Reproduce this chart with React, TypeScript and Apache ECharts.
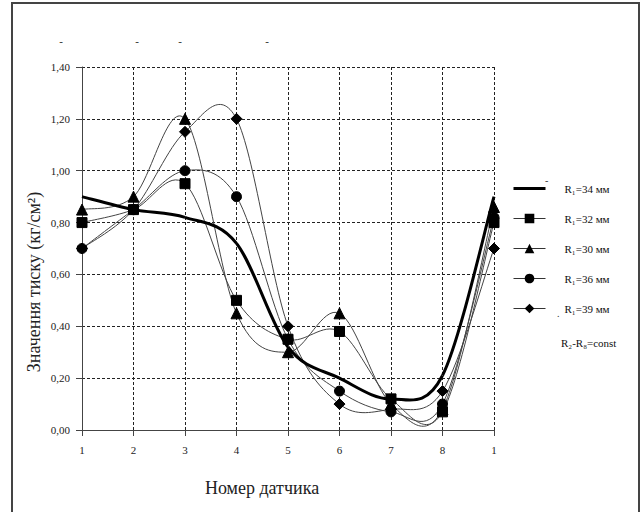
import React, { useEffect, useRef } from "react";
import * as echarts from "echarts";

const categories = ["1", "2", "3", "4", "5", "6", "7", "8", "1"];
const yTicks = { min: 0, max: 1.4, interval: 0.2 };

const r34 = [0.9, 0.85, 0.82, 0.72, 0.32, 0.2, 0.12, 0.21, 0.9];
const r32 = [0.8, 0.85, 0.95, 0.5, 0.35, 0.38, 0.12, 0.07, 0.8];
const r30 = [0.85, 0.9, 1.2, 0.45, 0.3, 0.45, 0.1, 0.08, 0.86];
const r36 = [0.7, 0.85, 1.0, 0.9, 0.35, 0.15, 0.07, 0.1, 0.82];
const r39 = [0.7, 0.85, 1.15, 1.2, 0.4, 0.1, 0.08, 0.15, 0.7];

const names = ["R₁=34 мм", "R₁=32 мм", "R₁=30 мм", "R₁=36 мм", "R₁=39 мм"];
const yTitle = "Значення тиску (кг/см²)";
const xTitle = "Номер датчика";
const note = "R₂-R₈=const";

const FONT = "'Liberation Serif', 'Times New Roman', serif";

// Smooth curve (Excel-like Catmull-Rom Bezier) drawn through the data via axis coordinates
function curveSeries(name: string, arr: number[], color: string, width: number) {
  const n = arr.length;
  return {
    name,
    type: "custom",
    data: arr.map((v, i) => [i, v]),
    encode: { x: 0, y: 1 },
    itemStyle: { color },
    z: 2,
    silent: true,
    renderItem: (params: any, api: any) => {
      const i = params.dataIndex;
      if (i >= n - 1) return { type: "group", children: [] };
      const pt = (k: number) => {
        const kk = Math.max(0, Math.min(n - 1, k));
        return api.coord([kk, arr[kk]]);
      };
      const p0 = pt(i - 1);
      const p1 = pt(i);
      const p2 = pt(i + 1);
      const p3 = pt(i + 2);
      return {
        type: "bezierCurve",
        shape: {
          x1: p1[0],
          y1: p1[1],
          x2: p2[0],
          y2: p2[1],
          cpx1: p1[0] + (p2[0] - p0[0]) / 6,
          cpy1: p1[1] + (p2[1] - p0[1]) / 6,
          cpx2: p2[0] - (p3[0] - p1[0]) / 6,
          cpy2: p2[1] - (p3[1] - p1[1]) / 6,
        },
        style: { stroke: color, lineWidth: width, fill: "none" },
      };
    },
  };
}

export default function App() {
  const ref = useRef<HTMLDivElement>(null);
  useEffect(() => {
    if (!ref.current) return;
    const chart = echarts.init(ref.current, undefined, { renderer: "svg" });
    const markers = (name: string, data: number[], symbol: string, size: number) => ({
      name,
      type: "line",
      data,
      symbol,
      symbolSize: size,
      lineStyle: { color: "#444", width: 1, opacity: 0 },
      itemStyle: { color: "#000", borderColor: "#000" },
      z: 4,
    });
    const thinLegend = { lineStyle: { opacity: 1, width: 1, color: "#333" } };
    chart.setOption({
      animation: false,
      backgroundColor: "#fff",
      grid: { left: 82, right: 148, top: 67, bottom: 82 },
      legend: {
        orient: "vertical",
        left: 508,
        top: 178,
        itemWidth: 32,
        itemHeight: 12,
        itemGap: 19,
        data: [
          { name: names[0], icon: "path://M0,0H32V3H0Z", itemStyle: { color: "#000" } },
          { name: names[1], ...thinLegend },
          { name: names[2], ...thinLegend },
          { name: names[3], ...thinLegend },
          { name: names[4], ...thinLegend },
        ],
        textStyle: { fontFamily: FONT, fontSize: 11, color: "#111", padding: [0, 0, 0, 14] },
      },
      xAxis: {
        type: "category",
        data: categories,
        boundaryGap: false,
        axisLine: { lineStyle: { color: "#444", width: 1 } },
        axisTick: { show: true, length: 6, lineStyle: { color: "#444" } },
        axisLabel: { margin: 14, fontFamily: FONT, fontSize: 11, color: "#222" },
        splitLine: { show: true, lineStyle: { color: "#222", type: [3, 2], width: 1 } },
      },
      yAxis: {
        type: "value",
        min: yTicks.min,
        max: yTicks.max,
        interval: yTicks.interval,
        axisLine: { show: true, lineStyle: { color: "#444", width: 1 } },
        axisTick: { show: true, length: 6, lineStyle: { color: "#444" } },
        axisLabel: {
          margin: 12,
          fontFamily: FONT,
          fontSize: 11,
          color: "#222",
          formatter: (v: number) => v.toFixed(2).replace(".", ","),
        },
        splitLine: { show: true, lineStyle: { color: "#222", type: [3, 2], width: 1 } },
      },
      series: [
        { ...curveSeries(names[0], r34, "#000", 3), z: 3 },
        markers(names[1], r32, "rect", 10),
        markers(names[2], r30, "triangle", 11),
        markers(names[3], r36, "circle", 10),
        markers(names[4], r39, "diamond", 11),
        curveSeries(names[1], r32, "#444", 1),
        curveSeries(names[2], r30, "#444", 1),
        curveSeries(names[3], r36, "#444", 1),
        curveSeries(names[4], r39, "#444", 1),
      ],
      graphic: [
        {
          type: "rect",
          shape: { x: 12, y: 3, width: 627, height: 540 },
          style: { fill: "none", stroke: "#444", lineWidth: 2 },
          silent: true,
        },
        {
          type: "text",
          x: 34,
          y: 282,
          rotation: Math.PI / 2,
          style: {
            text: yTitle,
            font: `18px ${FONT}`,
            fill: "#222",
            textAlign: "center",
            textVerticalAlign: "middle",
          },
        },
        {
          type: "text",
          x: 262,
          y: 488,
          style: {
            text: xTitle,
            font: `18px ${FONT}`,
            fill: "#222",
            textAlign: "center",
            textVerticalAlign: "middle",
          },
        },
        {
          type: "text",
          x: 561,
          y: 343,
          style: { text: note, font: `11px ${FONT}`, fill: "#111", textVerticalAlign: "middle" },
        },
        { type: "text", x: 545, y: 180, style: { text: "-", font: `10px ${FONT}`, fill: "#333", textVerticalAlign: "middle" } },
        { type: "text", x: 557, y: 313, style: { text: ".", font: `10px ${FONT}`, fill: "#333", textVerticalAlign: "middle" } },
        ...[61, 137, 180, 267].map((x) => ({
          type: "text",
          x,
          y: 41,
          style: { text: "-", font: `11px ${FONT}`, fill: "#222", textAlign: "center", textVerticalAlign: "middle" },
        })),
      ],
    });
    return () => chart.dispose();
  }, []);
  return (
    <div
      ref={ref}
      style={{ position: "fixed", left: 0, top: 0, width: 642, height: 512, background: "#fff" }}
    />
  );
}
